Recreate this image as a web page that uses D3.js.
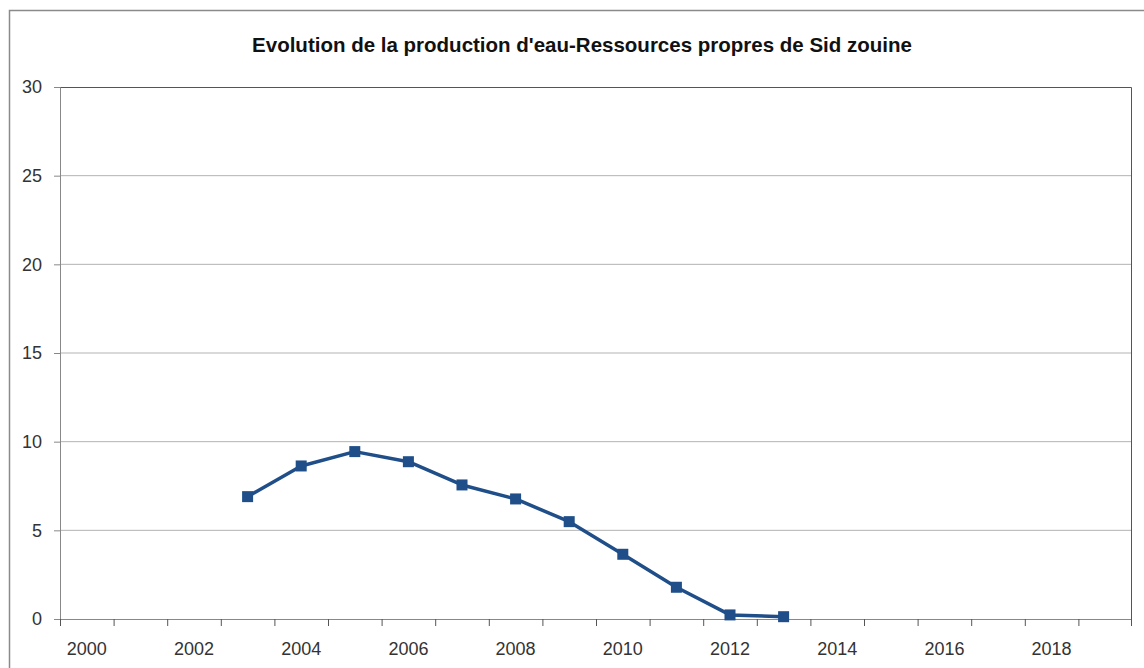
<!DOCTYPE html>
<html>
<head>
<meta charset="utf-8">
<script src="https://cdn.jsdelivr.net/npm/d3@7"></script>
<style>
  html, body { margin: 0; padding: 0; background: #fff; }
  svg { display: block; }
</style>
</head>
<body>
<div id="chart"></div>
<script>
// categories and values
const years = d3.range(2000, 2020);
const yearLabels = ["2000", "2002", "2004", "2006", "2008", "2010", "2012", "2014", "2016", "2018"];
const dataYears = [2003, 2004, 2005, 2006, 2007, 2008, 2009, 2010, 2011, 2012, 2013];
const production = [6.9, 8.63, 9.44, 8.87, 7.56, 6.77, 5.49, 3.65, 1.79, 0.23, 0.13];
const yTicks = [0, 5, 10, 15, 20, 25, 30];
const title = "Evolution de la production d'eau-Ressources propres de Sid zouine";

const W = 1144, H = 668;
const margin = {top: 87, right: 12, bottom: 49, left: 60};
const width = W - margin.left - margin.right;
const height = H - margin.top - margin.bottom;
const font = "'Liberation Sans', Arial, sans-serif";
const blue = "#1f4e89";

const svg = d3.select("#chart").append("svg")
  .attr("width", W).attr("height", H);

// outer chart frame
svg.append("rect")
  .attr("x", 9.5).attr("y", 10.5)
  .attr("width", W + 20).attr("height", H + 20)
  .attr("fill", "none").attr("stroke", "#8a8a8a").attr("stroke-width", 1.5);

svg.append("text")
  .attr("x", 582).attr("y", 52)
  .attr("text-anchor", "middle")
  .attr("font-family", font).attr("font-weight", "bold").attr("font-size", 20.5)
  .attr("fill", "#111")
  .text(title);

const g = svg.append("g").attr("transform", `translate(${margin.left},${margin.top})`);

const x = d3.scaleBand().domain(years).range([0, width]);
const y = d3.scaleLinear().domain([0, 30]).range([height, 0]);

// gridlines
g.append("g").selectAll("line")
  .data(yTicks.filter(d => d > 0 && d < 30))
  .enter().append("line")
  .attr("x1", 0).attr("x2", width)
  .attr("y1", d => y(d)).attr("y2", d => y(d))
  .attr("stroke", "#b3b3b3").attr("stroke-width", 1);

// plot area border (top / right)
g.append("path")
  .attr("d", `M0,0.5H${width - 0.5}V${height}`)
  .attr("fill", "none").attr("stroke", "#555").attr("stroke-width", 1);

// y axis
const yAxis = g.append("g")
  .call(d3.axisLeft(y).tickValues(yTicks).tickSize(6).tickPadding(12).tickFormat(d3.format("d")));
yAxis.select(".domain").attr("stroke", "#888");
yAxis.selectAll(".tick line").attr("stroke", "#888");
yAxis.selectAll("text").attr("font-family", font).attr("font-size", 18).attr("fill", "#333");

// x axis: ticks at band edges, labels at band centres
const xAxis = g.append("g").attr("transform", `translate(0,${height})`);
xAxis.append("line")
  .attr("x1", 0).attr("x2", width).attr("y1", 0.5).attr("y2", 0.5)
  .attr("stroke", "#888");
xAxis.selectAll(".xtick")
  .data(years.concat([2020]))
  .enter().append("line")
  .attr("class", "xtick")
  .attr("x1", d => d === 2020 ? width - 0.5 : x(d) + 0.5)
  .attr("x2", d => d === 2020 ? width - 0.5 : x(d) + 0.5)
  .attr("y1", 0).attr("y2", 7)
  .attr("stroke", "#555");
xAxis.selectAll(".xlabel")
  .data(yearLabels)
  .enter().append("text")
  .attr("class", "xlabel")
  .attr("x", d => x(+d) + x.bandwidth() / 2)
  .attr("y", 36)
  .attr("text-anchor", "middle")
  .attr("font-family", font).attr("font-size", 18).attr("fill", "#333")
  .text(d => d);

// series
const pts = dataYears.map((yr, i) => ({x: yr, y: production[i]}));
const line = d3.line()
  .x(d => x(d.x) + x.bandwidth() / 2)
  .y(d => y(d.y));

g.append("path")
  .datum(pts)
  .attr("fill", "none")
  .attr("stroke", blue)
  .attr("stroke-width", 3.5)
  .attr("stroke-linejoin", "round")
  .attr("d", line);

const ms = 11;
g.selectAll(".marker")
  .data(pts)
  .enter().append("rect")
  .attr("class", "marker")
  .attr("x", d => x(d.x) + x.bandwidth() / 2 - ms / 2)
  .attr("y", d => y(d.y) - ms / 2)
  .attr("width", ms).attr("height", ms)
  .attr("fill", blue);
</script>
</body>
</html>
